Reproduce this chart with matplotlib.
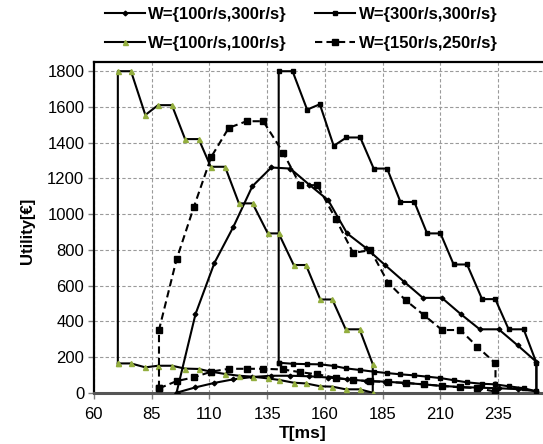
import matplotlib
matplotlib.use('Agg')
import matplotlib.pyplot as plt
from matplotlib.lines import Line2D

plt.rcParams['font.family'] = ['Liberation Sans', 'DejaVu Sans']

# ---- data ----
# W={100r/s,300r/s}  (solid, diamond markers)
a_x = [95.8, 104, 112.2, 120.4, 128.6, 136.8, 145, 153.2, 161.4, 169.6,
       177.8, 186, 194.2, 202.4, 210.6, 218.8, 227, 235.2, 243.4, 251.5]
a_high = [0, 440, 727, 929, 1156, 1261, 1255, 1165, 1078, 892,
          810, 715, 622, 531, 531, 440, 355, 355, 265, 173]
a_low = [0, 30, 55, 75, 88, 95, 95, 92, 85, 75,
         66, 62, 55, 47, 38, 32, 28, 25, 20, 8]

# W={300r/s,300r/s}  (solid, small square markers)
b_x = [140, 146, 152.3, 157.8, 163.8, 169.3, 175.3, 181.1, 186.9, 192.7,
       198.7, 204.2, 210, 215.7, 221.5, 228, 233.7, 239.5, 246, 251.5]
b_high = [1800, 1800, 1585, 1615, 1382, 1429, 1429, 1255, 1255, 1068,
          1068, 892, 892, 718, 718, 524, 524, 355, 355, 168]
b_low = [168, 162, 160, 159, 150, 136, 127, 118, 110, 103,
         97, 90, 82, 70, 58, 50, 47, 36, 25, 8]

# W={100r/s,100r/s}  (solid, triangle markers)
c_x = [70.4, 76.1, 82.3, 87.8, 93.8, 99.5, 105.4, 110.6, 116.8, 122.8,
       128.7, 135.3, 140, 146.5, 151.8, 158, 163.2, 169, 175, 180.7]
c_high = [1800, 1800, 1555, 1610, 1610, 1420, 1420, 1265, 1265, 1060,
          1060, 892, 892, 715, 715, 522, 522, 355, 355, 160]
c_low = [164, 164, 142, 151, 151, 135, 133, 118, 105, 95,
         90, 80, 72, 56, 52, 36, 34, 19, 19, 0]

# W={150r/s,250r/s}  (dashed, square markers)
d_x = [88.2, 95.8, 103.3, 110.8, 118.4, 126.1, 133.3, 142, 149.3, 156.7,
       164.6, 172.2, 179.7, 187.3, 194.9, 202.8, 210.7, 218.6, 226, 233.8]
d_high = [351, 746, 1040, 1320, 1483, 1520, 1520, 1343, 1162, 1162,
          975, 783, 798, 617, 518, 435, 351, 351, 257, 164]
d_low = [24, 65, 86, 118, 134, 134, 134, 130, 115, 103,
         84, 71, 64, 60, 55, 47, 38, 30, 26, 6]

labels = ['W={100r/s,300r/s}', 'W={300r/s,300r/s}',
          'W={100r/s,100r/s}', 'W={150r/s,250r/s}']
x_ticks = [60, 85, 110, 135, 160, 185, 210, 235]
y_ticks = [0, 200, 400, 600, 800, 1000, 1200, 1400, 1600, 1800]

# ---- figure ----
fig = plt.figure(figsize=(5.43, 4.44), dpi=100)
ax = fig.add_axes([93.8 / 543, 0.1155, 453.0 / 543, 0.7442])
ax.set_xlim(60, 256)
ax.set_ylim(0, 1850)

tri_col = '#93AE3E'
lw = 1.5


def loop(xs, low, high):
    return (xs + xs[::-1] + [xs[0]], low + high[::-1] + [low[0]])


px, py = loop(a_x, a_low, a_high)
ax.plot(px, py, color='black', lw=lw, marker='D', ms=2.4, zorder=3)
px, py = loop(b_x, b_low, b_high)
ax.plot(px, py, color='black', lw=lw, marker='s', ms=3.0, zorder=3)
px, py = loop(c_x, c_low, c_high)
ax.plot(px, py, color='black', lw=lw, marker='^', ms=3.6,
        mfc=tri_col, mec=tri_col, zorder=3)
px, py = loop(d_x, d_low, d_high)
ax.plot(px, py, color='black', lw=lw, ls=(0, (3.5, 2.0)), marker='s', ms=4.3,
        zorder=4)

ax.set_xticks(x_ticks)
ax.set_yticks(y_ticks)
ax.tick_params(axis='both', length=4.3, width=1.0, color='#808080',
               labelsize=12, direction='out')
ax.tick_params(axis='y', pad=2.5)
ax.tick_params(axis='x', pad=6)
ax.grid(True, color='#9a9a9a', ls=(0, (3, 2)), lw=0.8)
ax.set_axisbelow(True)

for s in ['left', 'top']:
    ax.spines[s].set_linewidth(1.6)
    ax.spines[s].set_color('black')
ax.spines['bottom'].set_linewidth(2.2)
ax.spines['bottom'].set_color('#555555')
ax.spines['right'].set_visible(False)

ax.set_ylabel('Utility[€]', fontsize=12, fontweight='bold')
ax.yaxis.set_label_coords(-0.13, 0.49)
ax.set_xlabel('T[ms]', fontsize=12.5, fontweight='bold')
ax.xaxis.set_label_coords(0.461, -0.1)

handles = [
    Line2D([], [], color='black', lw=lw, marker='D', ms=2.4),
    Line2D([], [], color='black', lw=lw, marker='^', ms=3.6, mfc=tri_col, mec=tri_col),
    Line2D([], [], color='black', lw=lw, marker='s', ms=3.0),
    Line2D([], [], color='black', lw=lw, ls=(0, (3.5, 2.0)), marker='s', ms=4.3),
]
leg_labels = [labels[0], labels[2], labels[1], labels[3]]
fig.legend(handles, leg_labels, loc='upper left', bbox_to_anchor=(90 / 543, 1.018),
           ncol=2, frameon=False, handlelength=2.4, handletextpad=0.2,
           columnspacing=1.7, labelspacing=0.85,
           prop={'size': 12, 'weight': 'bold'})

fig.savefig('out.png', dpi=100)
